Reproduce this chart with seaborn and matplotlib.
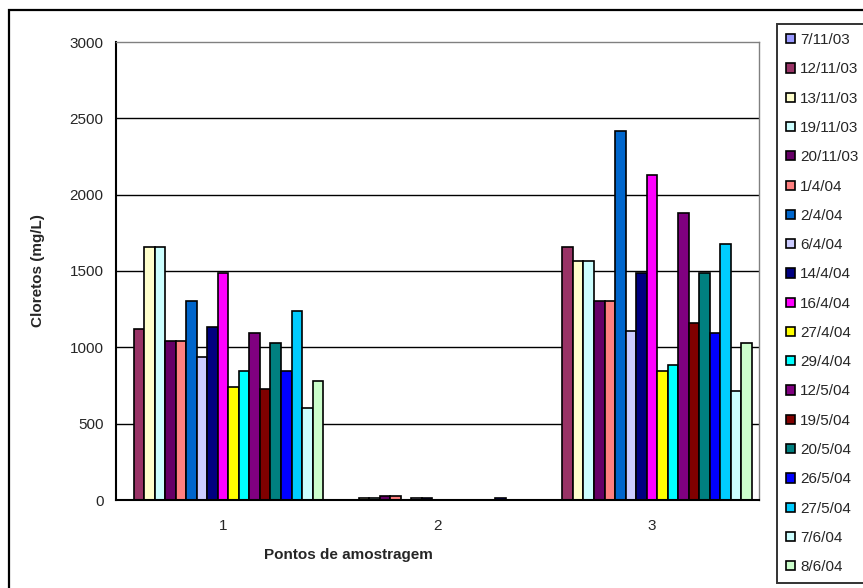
import numpy as np
import pandas as pd
import seaborn as sns
import matplotlib
matplotlib.use('Agg')
from matplotlib import pyplot as plt
from matplotlib.patches import Patch, Rectangle

pontos = ['1', '2', '3']
datas = ['7/11/03', '12/11/03', '13/11/03', '19/11/03', '20/11/03', '1/4/04',
         '2/4/04', '6/4/04', '14/4/04', '16/4/04', '27/4/04', '29/4/04',
         '12/5/04', '19/5/04', '20/5/04', '26/5/04', '27/5/04', '7/6/04', '8/6/04']
cores = ['#9999FF', '#993366', '#FFFFCC', '#CCFFFF', '#660066', '#FF8080',
         '#0066CC', '#CCCCFF', '#000080', '#FF00FF', '#FFFF00', '#00FFFF',
         '#800080', '#800000', '#008080', '#0000FF', '#00CCFF', '#CCFFFF', '#CCFFCC']

nan = np.nan
ponto1 = [nan, 1120, 1660, 1660, 1040, 1040, 1305, 935, 1135, 1490, 740, 845,
          1095, 730, 1030, 845, 1240, 600, 780]
ponto2 = [nan, nan, 12, 12, 25, 25, nan, 12, 12, nan, nan, nan,
          nan, nan, nan, 12, nan, nan, nan]
ponto3 = [nan, 1660, 1565, 1565, 1305, 1305, 2415, 1105, 1490, 2130, 845, 885,
          1880, 1160, 1490, 1095, 1675, 715, 1030]

rows = []
for p, vals in zip(pontos, [ponto1, ponto2, ponto3]):
    for d, v in zip(datas, vals):
        rows.append({'Ponto': p, 'Data': d, 'Valor': v})
df = pd.DataFrame(rows).dropna()

sns.set_style('white')
plt.rcParams['font.family'] = ['Liberation Sans', 'DejaVu Sans']

W, H = 863, 588
fig = plt.figure(figsize=(W / 100, H / 100), dpi=100)
ax = fig.add_axes([116 / W, 1 - 500 / H, (759 - 116) / W, (500 - 42) / H])

sns.barplot(data=df, x='Ponto', y='Valor', hue='Data', order=pontos,
            hue_order=datas, palette=cores, saturation=1, width=0.932,
            errorbar=None, edgecolor='black', linewidth=1.2, legend=False, ax=ax)

ax.set_xlim(-0.5, 2.5)
ax.set_ylim(0, 3000)
ax.set_yticks(range(0, 3001, 500))
ax.set_axisbelow(True)
ax.yaxis.grid(True, color='black', linewidth=1)
ax.get_ygridlines()[-1].set_visible(False)

ax.set_xticks([-0.5, 0.5, 1.5, 2.5], minor=True)
ax.tick_params(axis='x', which='major', length=0, pad=14, labelsize=11)
ax.tick_params(axis='x', which='minor', length=5, width=1.2, direction='out', color='black')
ax.tick_params(axis='y', length=5, width=1.2, direction='out', color='black', pad=4, labelsize=11)

for s in ['left', 'bottom']:
    ax.spines[s].set_color('black')
    ax.spines[s].set_linewidth(1.5)
for s in ['top', 'right']:
    ax.spines[s].set_color('#808080')
    ax.spines[s].set_linewidth(1)

ax.set_xlabel('Pontos de amostragem', fontsize=11, fontweight='bold')
ax.set_ylabel('Cloretos (mg/L)', fontsize=11, fontweight='bold')
ax.xaxis.set_label_coords(0.361, -0.105)
ax.yaxis.set_label_coords(-0.11, 0.5)

handles = [Patch(facecolor=c, edgecolor='black', linewidth=1.2) for c in cores]
leg = fig.legend(handles, datas, loc='upper left',
                 bbox_to_anchor=(777 / W, 1 - 24 / H, 0.2, 0.0),
                 mode='expand', borderaxespad=0, fontsize=11, frameon=True,
                 fancybox=False, handlelength=0.55, handleheight=0.55,
                 handletextpad=0.35, labelspacing=1.0, borderpad=0.6)
leg.get_frame().set_edgecolor('black')
leg.get_frame().set_linewidth(1.4)

fig.patches.append(Rectangle((9 / W, -0.1), 1.2, 1.1 - 10 / H, transform=fig.transFigure,
                             fill=False, edgecolor='black', linewidth=1.6))

fig.savefig('out.png', dpi=100)
